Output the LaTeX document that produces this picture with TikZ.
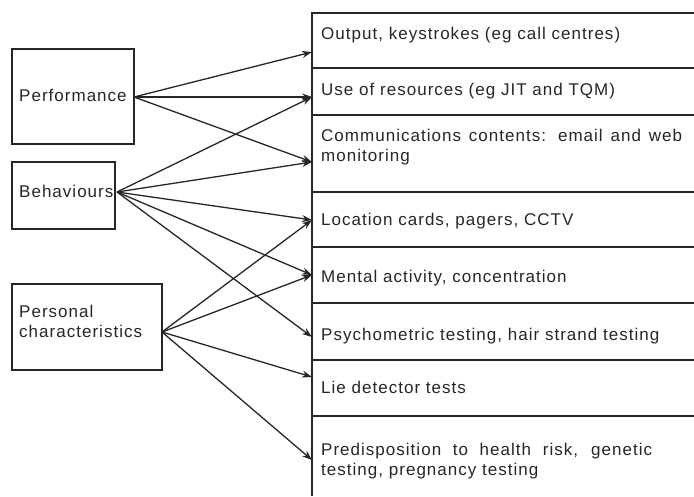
\documentclass[tikz,border=0pt]{standalone}
\usepackage{fontspec}
\setmainfont[LetterSpace=6]{Liberation Sans}
\usetikzlibrary{arrows.meta}
\begin{document}
\begin{tikzpicture}[x=1pt,y=-1pt,
  lbox/.style={draw=black!85,line width=1.4pt},
  txt/.style={anchor=base west,inner sep=0pt,font=\fontsize{17}{20}\selectfont,text=black!85},
  conn/.style={draw=black!85,line width=1.3pt,-{Stealth[length=10pt,width=7pt]}}]
\useasboundingbox (0,0) rectangle (694,496);
% left boxes
\draw[lbox] (12,49) rectangle (134,144);
\draw[lbox] (12,162) rectangle (115,229);
\draw[lbox] (12,284) rectangle (162,370);
\node[txt] (perf) at (19,101) {Performance};
\node[txt] (beh) at (19,197) {Behaviours};
\node[txt,align=left] (pers) at (19,337) {Personal\\characteristics};
% source points
\coordinate (sP) at (134,97);
\coordinate (sB) at (117,192);
\coordinate (sC) at (162,332);
% right column
\draw[lbox] (312,496) -- (312,13) -- (700,13);
\foreach \yy in {68,115,192,247,303,360,416}
  \draw[lbox] (312,\yy) -- (700,\yy);
\node[txt] (r1) at (321,39) {Output, keystrokes (eg call centres)};
\node[txt] (r2) at (321,95) {Use of resources (eg JIT and TQM)};
\node[txt,align=left] (r3) at (321,161) {\makebox[361pt][s]{Communications contents: email and web}\\monitoring};
\node[txt] (r4) at (321,225) {Location cards, pagers, CCTV};
\node[txt] (r5) at (321,282) {Mental activity, concentration};
\node[txt] (r6) at (321,340) {Psychometric testing, hair strand testing};
\node[txt] (r7) at (321,393) {Lie detector tests};
\node[txt,align=left] (r8) at (321,475) {\makebox[331pt][s]{Predisposition to health risk, genetic}\\testing, pregnancy testing};
% targets
\coordinate (t1) at (312,52);
\coordinate (t2) at (312,97);
\coordinate (t3) at (312,162);
\coordinate (t4) at (312,220);
\coordinate (t5) at (312,275);
\coordinate (t6) at (312,337);
\coordinate (t7) at (312,377);
\coordinate (t8) at (312,460);
\foreach \t in {t1,t2,t3} \draw[conn] (sP) -- (\t);
\foreach \t in {t2,t3,t4,t5,t6} \draw[conn] (sB) -- (\t);
\foreach \t in {t4,t5,t7,t8} \draw[conn] (sC) -- (\t);
\end{tikzpicture}
\end{document}
